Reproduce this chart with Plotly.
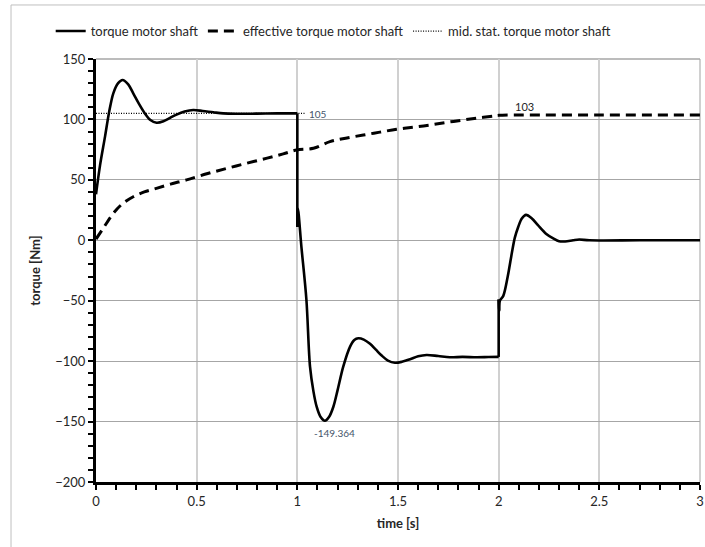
import plotly.graph_objects as go

# ---- data ----
t_motor = [0, 0.02, 0.045, 0.065, 0.086, 0.11, 0.132, 0.16, 0.185, 0.215, 0.243, 0.27, 0.301,
           0.335, 0.37, 0.40, 0.44, 0.483, 0.53, 0.583, 0.632, 0.7, 0.8, 0.9, 0.95, 1.0,
           1.0, 1.003, 1.02, 1.045, 1.063, 1.08, 1.096, 1.115, 1.137, 1.158, 1.179, 1.2,
           1.228, 1.262, 1.283, 1.303, 1.33, 1.361, 1.39, 1.419, 1.45, 1.485, 1.52, 1.56,
           1.6, 1.642, 1.7, 1.758, 1.82, 1.891, 1.95, 2.0,
           2.0, 2.003, 2.006, 2.023, 2.045, 2.065, 2.08, 2.097, 2.115, 2.136, 2.165, 2.195,
           2.235, 2.271, 2.3, 2.33, 2.37, 2.4, 2.45, 2.7, 3.0]
v_motor = [38, 62, 86, 106, 121.6, 130, 132.6, 129, 121.6, 112.5, 105, 99.5, 97.3,
           98.5, 101.5, 104, 106.5, 107.8, 107, 105.9, 105, 104.7, 104.8, 105, 105, 105,
           11, 26, -5, -49, -104.6, -125, -137.7, -146, -149.364, -146, -137.7, -124,
           -104.6, -88, -82.5, -81.1, -82.2, -85.7, -90.5, -95.4, -99.5, -101.3, -100.5, -98.5,
           -96, -94.9, -95.8, -96.8, -96.5, -96.8, -96.6, -96.5,
           -49, -58, -50, -46, -30, -11, 2, 11, 18, 21, 18, 12.5,
           5.5, 1.6, -0.8, -1, 0, 0.6, 0, 0, 0]

t_eff = [0, 0.04, 0.086, 0.13, 0.185, 0.24, 0.30, 0.37, 0.45, 0.55, 0.65, 0.748, 0.85, 0.93,
         0.997, 1.08, 1.162, 1.24, 1.328, 1.41, 1.493, 1.58, 1.659, 1.74, 1.824, 1.9, 1.973,
         2.0, 2.5, 3.0]
v_eff = [1, 11, 22.3, 30, 36, 40, 43, 46.5, 50, 55, 59.5, 63.7, 68, 71.5,
         74.7, 76.1, 81.6, 84.5, 87.1, 89.5, 91.8, 93.6, 95.4, 97.5, 99.5, 101.3, 102.8,
         103.4, 103.6, 103.6]

t_mid = [0, 1.04]
v_mid = [105, 105]

names = ["torque motor shaft", "effective torque motor shaft", "mid. stat. torque motor shaft"]
x_ticks = [0, 0.5, 1, 1.5, 2, 2.5, 3]
x_ticklabels = ["0", "0.5", "1", "1.5", "2", "2.5", "3"]
y_ticks = [150, 100, 50, 0, -50, -100, -150, -200]

FONT = "Lato"
TXT = "#262626"

fig = go.Figure()

# solid series: smooth pieces, with the step jumps drawn straight
jumps = [i for i in range(1, len(t_motor)) if t_motor[i] == t_motor[i - 1]]
bounds = [0] + jumps + [len(t_motor)]
first = True
for a, b in zip(bounds[:-1], bounds[1:]):
    fig.add_trace(go.Scatter(x=t_motor[a:b], y=v_motor[a:b], mode="lines", name=names[0],
                             legendgroup="m", showlegend=first,
                             line=dict(color="black", width=2.6, shape="spline", smoothing=0.9)))
    first = False
for j in jumps:
    fig.add_trace(go.Scatter(x=t_motor[j - 1:j + 1], y=v_motor[j - 1:j + 1], mode="lines",
                             legendgroup="m", showlegend=False, hoverinfo="skip",
                             line=dict(color="black", width=2.6)))

fig.add_trace(go.Scatter(x=t_eff, y=v_eff, mode="lines", name=names[1],
                         line=dict(color="black", width=3, dash="10px,6px",
                                   shape="spline", smoothing=1)))
fig.add_trace(go.Scatter(x=t_mid, y=v_mid, mode="lines", name=names[2],
                         line=dict(color="black", width=1.2, dash="1px,1.5px")))

# data labels
fig.add_annotation(x=1.05, y=104.5, text="105", showarrow=False, xanchor="left",
                   yanchor="middle", font=dict(family=FONT, size=10, color="#44546A"))
fig.add_annotation(x=1.185, y=-159.5, text="-149.364", showarrow=False, xanchor="center",
                   yanchor="middle", font=dict(family=FONT, size=10, color="#44546A"))
fig.add_annotation(x=2.13, y=110.5, text="103", showarrow=False, xanchor="center",
                   yanchor="middle", font=dict(family=FONT, size=11, color=TXT))

# outer chart border
fig.add_shape(type="rect", xref="paper", yref="paper", x0=-0.1407, y0=-0.3, x1=1.2, y1=1.1277,
              line=dict(color="#BFBFBF", width=1), fillcolor="rgba(0,0,0,0)", layer="below")

fig.update_layout(
    width=705, height=547,
    margin=dict(l=96, r=5, t=59, b=65),
    paper_bgcolor="white", plot_bgcolor="white",
    font=dict(family=FONT, size=13, color=TXT),
    showlegend=True,
    legend=dict(orientation="h", x=-0.075, y=1.066, xanchor="left", yanchor="middle",
                font=dict(family=FONT, size=13, color=TXT), itemwidth=30,
                bgcolor="rgba(0,0,0,0)", tracegroupgap=0, itemclick=False),
    xaxis=dict(range=[0, 3], tickvals=x_ticks, ticktext=x_ticklabels, automargin=False,
               showgrid=True, gridcolor="#D0D0D0", gridwidth=2,
               showline=True, linecolor="black", linewidth=3, zeroline=False,
               ticks="outside", ticklen=5, tickwidth=2, tickcolor="black",
               minor=dict(dtick=0.1, ticks="outside", ticklen=5, tickwidth=2,
                          tickcolor="black", showgrid=False),
               tickfont=dict(family=FONT, size=13, color=TXT),
               title=dict(text="<b>time [s]</b>", standoff=12,
                          font=dict(family=FONT, size=13, color=TXT))),
    yaxis=dict(range=[-200, 150], tickvals=y_ticks, automargin=False,
               showgrid=True, gridcolor="#A6A6A6", gridwidth=1.3,
               showline=True, linecolor="black", linewidth=3, zeroline=False,
               ticks="outside", ticklen=5, tickwidth=2, tickcolor="black",
               minor=dict(dtick=10, ticks="outside", ticklen=5, tickwidth=2,
                          tickcolor="black", showgrid=False),
               tickfont=dict(family=FONT, size=13, color=TXT),
               title=dict(text="<b>torque [Nm]</b>", standoff=12,
                          font=dict(family=FONT, size=13, color=TXT))),
)

# right/top frame as grid-coloured lines
fig.add_shape(type="line", xref="paper", yref="paper", x0=1, x1=1, y0=0, y1=1,
              line=dict(color="#D0D0D0", width=2), layer="below")
fig.add_shape(type="line", xref="paper", yref="paper", x0=0, x1=1, y0=1, y1=1,
              line=dict(color="#A6A6A6", width=1.3), layer="below")

fig.write_html("out.html")
